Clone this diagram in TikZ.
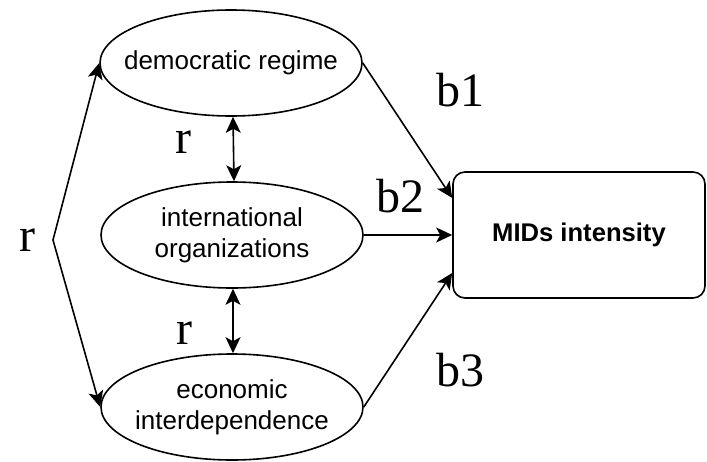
\documentclass[tikz,border=0pt]{standalone}
\usepackage{fontspec}
\setmainfont{Liberation Serif}
\setsansfont{Liberation Sans}
\usetikzlibrary{positioning, arrows.meta, shapes.geometric}

\begin{document}
\begin{tikzpicture}[
    x=0.5pt, y=-0.5pt,
    factor/.style={ellipse, draw, line width=0.8pt, minimum width=131pt, minimum height=53pt, inner sep=0pt},
    factortext/.style={align=center, font=\sffamily\fontsize{13}{15.5}\selectfont},
    outcome/.style={rectangle, draw, rounded corners=6pt, line width=0.8pt, minimum width=126pt, minimum height=63pt, align=center, font=\sffamily\bfseries\fontsize{12.8}{15}\selectfont},
    coef/.style={font=\fontsize{24}{28}\selectfont, inner sep=0pt},
    arrow/.style={-{Stealth[length=8pt, width=7.5pt, inset=2pt]}, line width=0.8pt},
    both/.style={{Stealth[length=8pt, width=7.5pt, inset=2pt]}-{Stealth[length=8pt, width=7.5pt, inset=2pt]}, line width=0.8pt},
]
\useasboundingbox (0,0) rectangle (707,461);
\node[factor, label={[factortext]center:democratic regime}] (dem) at (231,63) {};
\node[factor, label={[factortext]center:international\\organizations}] (inter) at (232,235) {};
\node[factor, label={[factortext]center:economic\\interdependence}] (eco) at (232,407) {};
\node[outcome] (mids) at (579,235) {MIDs intensity};
\coordinate (fork) at (53,240);
\node[coef] (r1) at (27,240) {r};
\node[coef] (r2) at (183,142) {r};
\node[coef] (r3) at (184,333) {r};
\node[coef] (b1) at (460,90) {b1};
\node[coef] (b2) at (400,196) {b2};
\node[coef] (b3) at (460,370) {b3};
\draw[arrow] (dem.east) -- ([yshift=18.5pt]mids.west);
\draw[arrow] (inter.east) -- (mids.west);
\draw[arrow] (eco.east) -- ([yshift=-19pt]mids.west);
\draw[both] (dem.west) -- (fork) -- (eco.west);
\draw[both] ([xshift=1pt]dem.south) -- ([xshift=1pt]inter.north);
\draw[both] ([xshift=0.5pt]inter.south) -- ([xshift=0.5pt]eco.north);

\end{tikzpicture}
\end{document}
